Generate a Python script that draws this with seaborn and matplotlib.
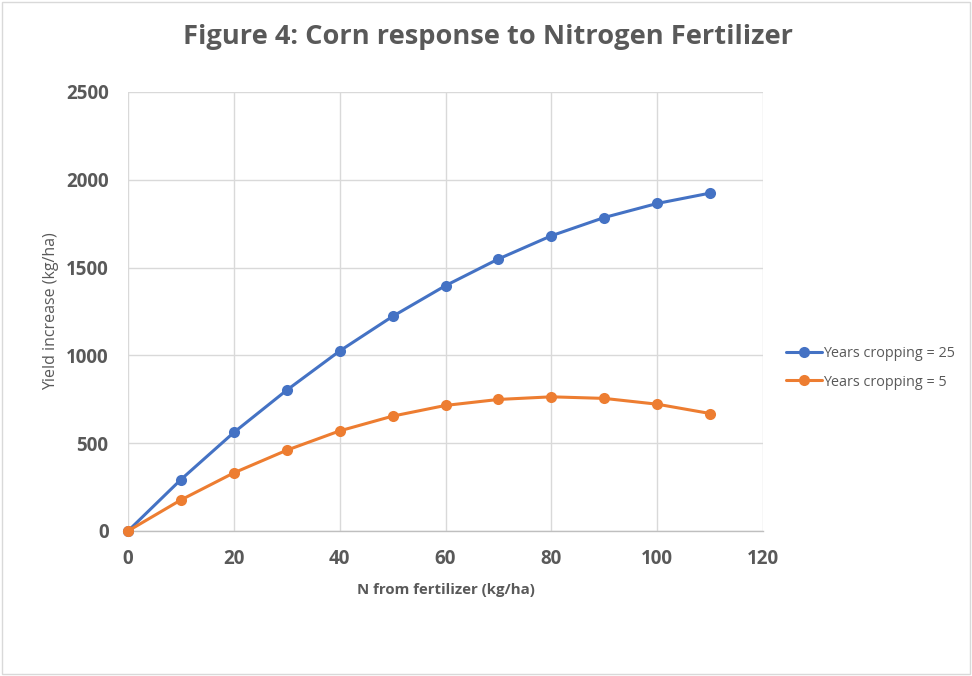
import matplotlib
matplotlib.use("Agg")
import matplotlib.pyplot as plt
import seaborn as sns
import pandas as pd
from matplotlib.patches import Rectangle

n_rate = [0, 10, 20, 30, 40, 50, 60, 70, 80, 90, 100, 110]
yield_25 = [0, 293, 561, 802, 1025, 1222, 1397, 1549, 1681, 1785, 1865, 1924]
yield_5 = [0, 177, 331, 460, 570, 654, 715, 749, 764, 755, 722, 669]
series_names = ["Years cropping = 25", "Years cropping = 5"]
x_ticks = [0, 20, 40, 60, 80, 100, 120]
y_ticks = [0, 500, 1000, 1500, 2000, 2500]

df = pd.concat([
    pd.DataFrame({"N": n_rate, "Yield": yield_25, "Series": series_names[0]}),
    pd.DataFrame({"N": n_rate, "Yield": yield_5, "Series": series_names[1]}),
])

sns.set_theme(style="white")
plt.rcParams["font.family"] = ["Open Sans", "DejaVu Sans"]

text_grey = "#595959"
fig = plt.figure(figsize=(9.72, 6.76), dpi=100)
ax = fig.add_axes([0.1317, 0.2145, 0.6533, 0.6495])

sns.lineplot(data=df, x="N", y="Yield", hue="Series", palette=["#4472C4", "#ED7D31"],
             marker="o", markersize=8, markeredgewidth=0, linewidth=2.2, ax=ax,
             legend=True, clip_on=False, zorder=3)

ax.set_xlim(0, 120)
ax.set_ylim(0, 2500)
ax.set_xticks(x_ticks)
ax.set_yticks(y_ticks)
ax.grid(True, color="#D9D9D9", linewidth=1)
ax.set_axisbelow(True)
for side in ["top", "right", "left"]:
    ax.spines[side].set_visible(False)
ax.spines["bottom"].set_color("#BFBFBF")
ax.spines["bottom"].set_linewidth(1)
ax.tick_params(axis="both", length=0, labelsize=13.5, labelcolor=text_grey)
ax.tick_params(axis="y", pad=14)
ax.tick_params(axis="x", pad=13)
for lbl in ax.get_xticklabels() + ax.get_yticklabels():
    lbl.set_fontweight("bold")

ax.set_xlabel("N from fertilizer (kg/ha)", fontsize=10.8, fontweight="bold", color=text_grey, labelpad=10)
ax.set_ylabel("Yield increase (kg/ha)", fontsize=11.5, color=text_grey, labelpad=5)

fig.text(0.502, 0.945, "Figure 4: Corn response to Nitrogen Fertilizer",
         ha="center", va="center", fontsize=19.6, fontweight="bold", color=text_grey)

leg = ax.legend(loc="center left", bbox_to_anchor=(1.015, 0.372), frameon=False,
                fontsize=10.4, handlelength=2.5, handletextpad=0.1, labelspacing=0.95)
for t in leg.get_texts():
    t.set_color(text_grey)

fig.patches.append(Rectangle((0.002, 0.003), 0.996, 0.994, transform=fig.transFigure,
                             fill=False, edgecolor="#D9D9D9", linewidth=1))

fig.savefig("out.png", dpi=100)
